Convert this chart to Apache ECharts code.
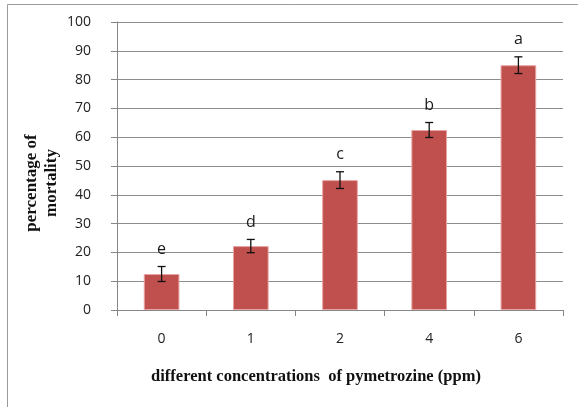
<!DOCTYPE html>
<html><head><meta charset="utf-8">
<script src="https://cdn.jsdelivr.net/npm/echarts@6/dist/echarts.min.js"></script>
<style>html,body{margin:0;padding:0;background:#fff}#c{width:578px;height:407px}</style>
</head><body><div id="c"></div>
<script>
var categories = ['0', '1', '2', '4', '6'];
var mortality = [12.5, 22.2, 45.1, 62.5, 85.0];
var errors = [2.6, 2.3, 2.9, 2.6, 2.9];
var letters = ['e', 'd', 'c', 'b', 'a'];
var yTicks = [0, 10, 20, 30, 40, 50, 60, 70, 80, 90, 100];
var xTitle = 'different concentrations  of pymetrozine (ppm)';
var yTitle = 'percentage of\nmortality';

var chart = echarts.init(document.getElementById('c'));
var errData = mortality.map(function (v, i) { return [i, v - errors[i], v + errors[i], letters[i]]; });
chart.setOption({
  animation: false,
  graphic: [{
    type: 'rect', silent: true, z: -10,
    shape: { x: 7.5, y: 4.5, width: 600, height: 500 },
    style: { fill: 'none', stroke: '#9a9a9a', lineWidth: 1 }
  }, {
    type: 'text', x: 42, y: 183, rotation: Math.PI / 2,
    style: { text: yTitle, font: 'bold 17px "Liberation Serif"', fill: '#111',
      align: 'center', verticalAlign: 'middle', lineHeight: 20 }
  }, {
    type: 'text', x: 316, y: 377,
    style: { text: xTitle, font: 'bold 16.5px "Liberation Serif"', fill: '#111',
      align: 'center', verticalAlign: 'middle' }
  }],
  grid: { left: 117, right: 15, top: 22, bottom: 97 },
  xAxis: {
    type: 'category', data: categories,
    axisLine: { lineStyle: { color: '#868686' } },
    axisTick: { show: true, length: 6, lineStyle: { color: '#868686' } },
    axisLabel: { color: '#222', fontFamily: 'Open Sans', fontSize: 14, margin: 22 }
  },
  yAxis: {
    type: 'value', min: 0, max: 100, interval: 10,
    axisLine: { show: true, lineStyle: { color: '#868686' } },
    axisTick: { show: true, length: 6, lineStyle: { color: '#868686' } },
    splitLine: { lineStyle: { color: '#8c8c8c', width: 1 } },
    axisLabel: { color: '#222', fontFamily: 'Open Sans', fontSize: 14, margin: 26,
      formatter: function (v) { return yTicks.indexOf(v) >= 0 ? String(v) : ''; } }
  },
  series: [{
    type: 'bar', data: mortality, barWidth: '40%',
    itemStyle: { color: '#C0504D', borderColor: '#e8a5a3', borderWidth: 1 }
  }, {
    type: 'custom', data: errData, z: 10,
    renderItem: function (params, api) {
      var x = api.coord([api.value(0), 0])[0];
      var lo = api.coord([api.value(0), api.value(1)])[1];
      var hi = api.coord([api.value(0), api.value(2)])[1];
      var w = 4;
      var st = { stroke: '#111', lineWidth: 1.3 };
      return { type: 'group', children: [
        { type: 'line', shape: { x1: x, y1: lo, x2: x, y2: hi }, style: st },
        { type: 'line', shape: { x1: x - w, y1: lo, x2: x + w, y2: lo }, style: st },
        { type: 'line', shape: { x1: x - w, y1: hi, x2: x + w, y2: hi }, style: st },
        { type: 'text', style: { text: letters[params.dataIndex], x: x, y: hi - 9, align: 'center', verticalAlign: 'bottom',
          font: '16px "Open Sans"', fill: '#1a1a1a' } }
      ] };
    }
  }]
});
</script></body></html>
